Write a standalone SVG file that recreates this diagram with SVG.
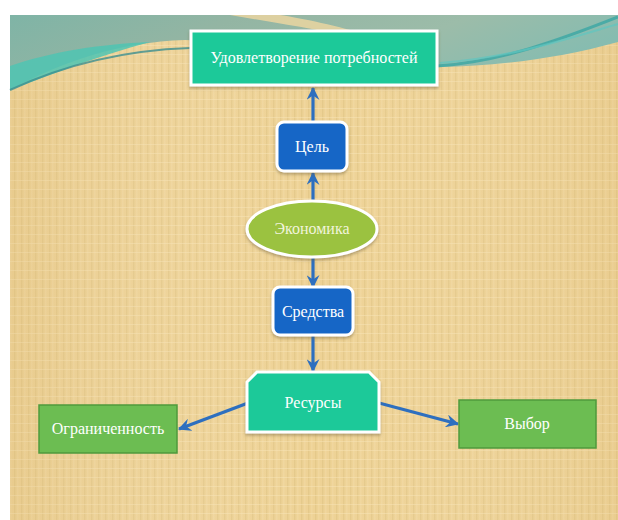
<svg xmlns="http://www.w3.org/2000/svg" width="618" height="520" viewBox="0 0 618 520">
<defs>
<style>
.t{font-family:"Liberation Serif","DejaVu Serif",serif;font-size:16px;fill:#ffffff;text-anchor:middle}
.conn{stroke:#2d6fbf;stroke-width:3.2;fill:none;marker-end:url(#arr)}
.blue{fill:#1766c6;stroke:#ffffff;stroke-width:3}
.teal{fill:#1ec999;stroke:#ffffff;stroke-width:3}
.grn{fill:#6cbd52;stroke:#4f9a3c;stroke-width:1.5}
</style>
<pattern id="tex" width="7" height="9" patternUnits="userSpaceOnUse">
<rect width="7" height="9" fill="#eed295"/>
<rect x="0" y="0" width="1.4" height="9" fill="#dcbf80" opacity="0.5"/>
<rect x="3.5" y="0" width="0.8" height="9" fill="#f6e2b2" opacity="0.5"/>
<rect x="0" y="0" width="7" height="1" fill="#f7e4b5" opacity="0.5"/>
</pattern>
<linearGradient id="sky" x1="0" y1="0" x2="1" y2="0.3">
<stop offset="0" stop-color="#7fb4a6"/>
<stop offset="0.35" stop-color="#93b5a3"/>
<stop offset="0.7" stop-color="#9cbca9"/>
<stop offset="1" stop-color="#86bcb0"/>
</linearGradient>
<linearGradient id="vign" x1="0" y1="0" x2="1" y2="0">
<stop offset="0" stop-color="#d9b878" stop-opacity="0.25"/>
<stop offset="0.5" stop-color="#ffffff" stop-opacity="0"/>
<stop offset="1" stop-color="#d9b878" stop-opacity="0.2"/>
</linearGradient>
<filter id="sh" x="-10%" y="-10%" width="120%" height="130%">
<feDropShadow dx="0" dy="2" stdDeviation="1.5" flood-color="#6b5a35" flood-opacity="0.45"/>
</filter>
<marker id="arr" viewBox="0 0 12 12" markerWidth="13" markerHeight="13" refX="11" refY="6" orient="auto" markerUnits="userSpaceOnUse">
<path d="M0,0 L12,6 L0,12 L4,6 Z" fill="#2d6fbf"/>
</marker>
</defs>
<rect width="618" height="520" fill="#ffffff"/>
<g id="background">
<rect x="10" y="15" width="608" height="505" fill="url(#tex)"/>
<rect x="10" y="15" width="608" height="505" fill="url(#vign)"/>
<path d="M10,15 L618,15 L618,42 C560,58 500,66 440,67 L300,55 C250,48 210,40 185,40 C120,42 60,62 10,90 Z" fill="url(#sky)"/>
<path d="M10,66 C50,52 100,44 150,42 C100,55 50,75 10,90 Z" fill="#4fc4b3" opacity="0.85"/>
<path d="M230,15 C270,22 310,28 340,35 L370,36 C340,26 300,18 280,15 Z" fill="#efd7a0" opacity="0.8"/>
<path d="M10,90 C70,62 130,50 190,48" stroke="#3c8f90" stroke-width="2" fill="none" opacity="0.8"/>
<path d="M437,66 C500,62 560,40 618,17" stroke="#3aa6a4" stroke-width="3" fill="none" opacity="0.8"/>
<path d="M440,63 C510,58 570,38 618,24" stroke="#5fc6c0" stroke-width="2" fill="none" opacity="0.7"/>
</g>
<g id="connectors">
<line class="conn" x1="313" y1="122" x2="313" y2="88"/>
<line class="conn" x1="313" y1="201" x2="313" y2="173"/>
<line class="conn" x1="313" y1="257" x2="313" y2="287"/>
<line class="conn" x1="313" y1="335" x2="313" y2="371"/>
<line class="conn" x1="248" y1="403" x2="179" y2="429"/>
<line class="conn" x1="379" y1="403" x2="458" y2="424"/>
</g>
<g id="node-udovl">
<rect class="teal" x="191" y="31" width="246" height="54" filter="url(#sh)"/>
<text class="t" x="314" y="63">Удовлетворение потребностей</text>
</g>
<g id="node-cel">
<rect class="blue" x="277" y="122" width="70" height="49" rx="7" filter="url(#sh)"/>
<text class="t" x="312" y="152">Цель</text>
</g>
<g id="node-ekonomika">
<ellipse cx="312" cy="229" rx="65" ry="28" fill="#9bc23f" stroke="#ffffff" stroke-width="3" filter="url(#sh)"/>
<text class="t" x="312" y="234" style="fill:#f1f4dc">Экономика</text>
</g>
<g id="node-sredstva">
<rect class="blue" x="273" y="287" width="80" height="48" rx="7" filter="url(#sh)"/>
<text class="t" x="313" y="317">Средства</text>
</g>
<g id="node-resursy">
<path class="teal" d="M257,372 L369,372 L379,382 L379,432 L247,432 L247,382 Z" filter="url(#sh)"/>
<text class="t" x="313" y="408">Ресурсы</text>
</g>
<g id="node-ogr">
<rect class="grn" x="39" y="405" width="138" height="48"/>
<text class="t" x="108" y="434">Ограниченность</text>
</g>
<g id="node-vybor">
<rect class="grn" x="459" y="400" width="137" height="48"/>
<text class="t" x="527" y="429">Выбор</text>
</g>
</svg>
